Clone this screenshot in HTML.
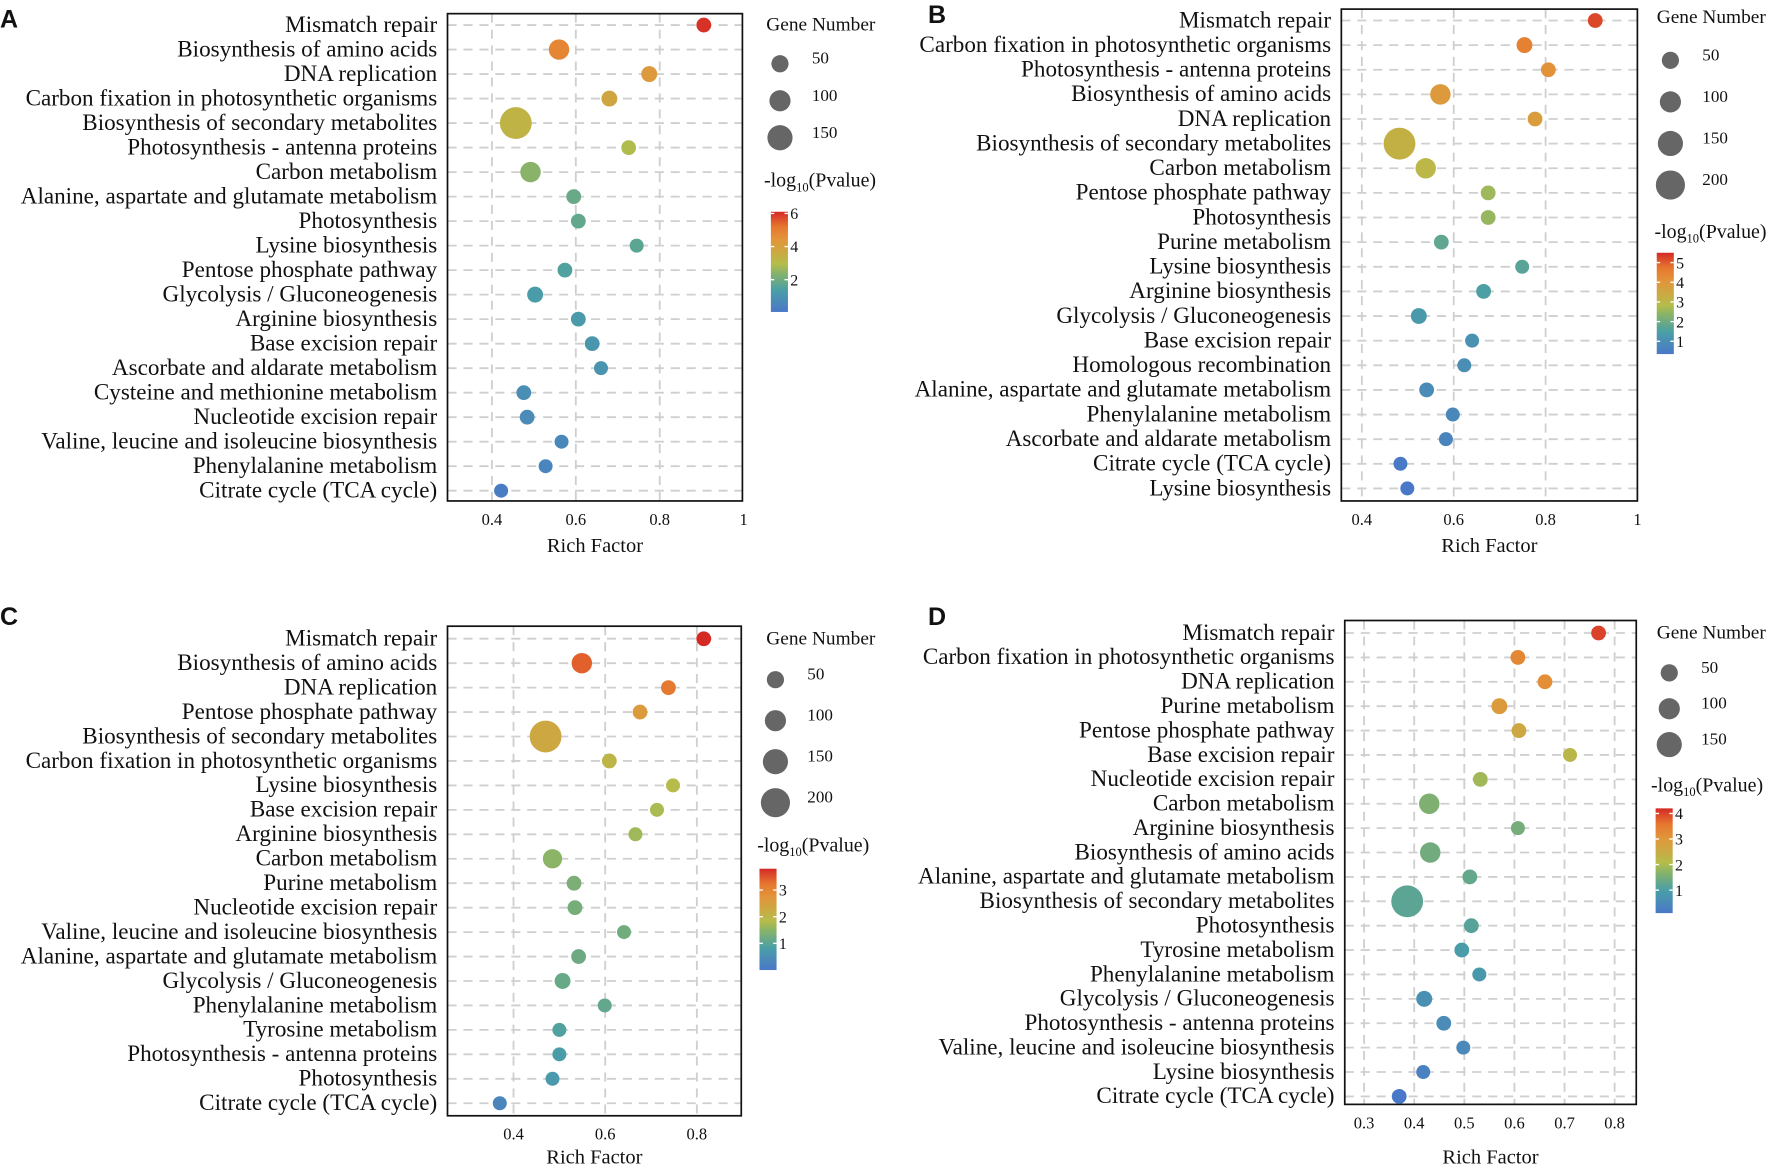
<!DOCTYPE html>
<html><head><meta charset="utf-8"><style>
html,body{margin:0;padding:0;background:#fff;}
svg{display:block;}
text{font-family:"Liberation Serif",serif;fill:#111;}
text.letter{font-family:"Liberation Sans",sans-serif;font-weight:bold;}
</style></head><body>
<svg id="fig" width="1782" height="1167" viewBox="0 0 1565 1025" preserveAspectRatio="none" xmlns="http://www.w3.org/2000/svg"></svg>
<script>
// ---- Panel A data ----
const catsA = ["Mismatch repair","Biosynthesis of amino acids","DNA replication","Carbon fixation in photosynthetic organisms","Biosynthesis of secondary metabolites","Photosynthesis - antenna proteins","Carbon metabolism","Alanine, aspartate and glutamate metabolism","Photosynthesis","Lysine biosynthesis","Pentose phosphate pathway","Glycolysis / Gluconeogenesis","Arginine biosynthesis","Base excision repair","Ascorbate and aldarate metabolism","Cysteine and methionine metabolism","Nucleotide excision repair","Valine, leucine and isoleucine biosynthesis","Phenylalanine metabolism","Citrate cycle (TCA cycle)"];
const richA = [0.905,0.56,0.775,0.68,0.457,0.726,0.492,0.595,0.606,0.745,0.574,0.503,0.606,0.639,0.66,0.476,0.484,0.566,0.528,0.422];
const genesA = [20,91,34,34,234,20,91,20,20,10,20,34,20,20,10,20,20,10,10,10];
const pvalA = [6,4.8,4.2,3.8,3.3,2.9,2.4,1.9,1.8,1.7,1.5,1.3,1.2,1.1,1.0,0.8,0.7,0.6,0.5,0.2];
const ticksA = ["0.4","0.6","0.8","1"];
const sizeLegA = [50,100,150];
const cbTicksA = ["2","4","6"];
// ---- Panel B data ----
const catsB = ["Mismatch repair","Carbon fixation in photosynthetic organisms","Photosynthesis - antenna proteins","Biosynthesis of amino acids","DNA replication","Biosynthesis of secondary metabolites","Carbon metabolism","Pentose phosphate pathway","Photosynthesis","Purine metabolism","Lysine biosynthesis","Arginine biosynthesis","Glycolysis / Gluconeogenesis","Base excision repair","Homologous recombination","Alanine, aspartate and glutamate metabolism","Phenylalanine metabolism","Ascorbate and aldarate metabolism","Citrate cycle (TCA cycle)","Lysine biosynthesis"];
const richB = [0.908,0.754,0.806,0.571,0.777,0.482,0.539,0.675,0.675,0.573,0.749,0.665,0.524,0.64,0.623,0.541,0.598,0.583,0.484,0.499];
const genesB = [20,34,20,91,20,234,91,20,20,20,10,20,34,10,10,20,10,10,10,10];
const pvalB = [5.2,4.5,4.1,3.9,3.8,3.2,3.0,2.6,2.5,1.8,1.7,1.5,1.3,1.1,1.0,0.9,0.8,0.7,0.4,0.3];
const ticksB = ["0.4","0.6","0.8","1"];
const sizeLegB = [50,100,150,200];
const cbTicksB = ["1","2","3","4","5"];
// ---- Panel C data ----
const catsC = ["Mismatch repair","Biosynthesis of amino acids","DNA replication","Pentose phosphate pathway","Biosynthesis of secondary metabolites","Carbon fixation in photosynthetic organisms","Lysine biosynthesis","Base excision repair","Arginine biosynthesis","Carbon metabolism","Purine metabolism","Nucleotide excision repair","Valine, leucine and isoleucine biosynthesis","Alanine, aspartate and glutamate metabolism","Glycolysis / Gluconeogenesis","Phenylalanine metabolism","Tyrosine metabolism","Photosynthesis - antenna proteins","Photosynthesis","Citrate cycle (TCA cycle)"];
const richC = [0.815,0.549,0.738,0.676,0.47,0.609,0.748,0.713,0.666,0.485,0.532,0.534,0.641,0.542,0.507,0.599,0.5,0.5,0.485,0.37];
const genesC = [20,91,20,20,234,20,10,10,10,77,20,20,10,20,34,10,10,10,10,10];
const pvalC = [3.8,3.4,3.2,2.6,2.3,2.0,1.85,1.75,1.65,1.5,1.35,1.3,1.25,1.2,1.15,1.1,0.9,0.8,0.7,0.3];
const ticksC = ["0.4","0.6","0.8"];
const sizeLegC = [50,100,150,200];
const cbTicksC = ["1","2","3"];
// ---- Panel D data ----
const catsD = ["Mismatch repair","Carbon fixation in photosynthetic organisms","DNA replication","Purine metabolism","Pentose phosphate pathway","Base excision repair","Nucleotide excision repair","Carbon metabolism","Arginine biosynthesis","Biosynthesis of amino acids","Alanine, aspartate and glutamate metabolism","Biosynthesis of secondary metabolites","Photosynthesis","Tyrosine metabolism","Phenylalanine metabolism","Glycolysis / Gluconeogenesis","Photosynthesis - antenna proteins","Valine, leucine and isoleucine biosynthesis","Lysine biosynthesis","Citrate cycle (TCA cycle)"];
const richD = [0.768,0.607,0.661,0.57,0.609,0.711,0.532,0.43,0.607,0.432,0.511,0.386,0.514,0.495,0.53,0.42,0.459,0.498,0.418,0.37];
const genesD = [20,20,20,34,20,10,20,91,10,91,20,234,20,20,10,34,20,10,10,20];
const pvalD = [4,3.3,3.15,2.9,2.6,2.2,1.9,1.6,1.5,1.45,1.3,1.2,1.15,0.95,0.85,0.65,0.55,0.5,0.3,0.1];
const ticksD = ["0.3","0.4","0.5","0.6","0.7","0.8"];
const sizeLegD = [50,100,150];
const cbTicksD = ["1","2","3","4"];

const NS="http://www.w3.org/2000/svg";
const svg=document.getElementById('fig');
function mk(tag,attrs,parent,txt){const e=document.createElementNS(NS,tag);for(const k in attrs)e.setAttribute(k,attrs[k]);if(txt!==undefined)e.textContent=txt;(parent||svg).appendChild(e);return e;}
const stops=[[0,'#4a78c8'],[0.22,'#4a9fa6'],[0.38,'#84b26c'],[0.48,'#b4bd4a'],[0.57,'#c6ad44'],[0.72,'#e2953a'],[0.85,'#e6772f'],[1,'#d42a26']];
function hex(c){return [1,3,5].map(i=>parseInt(c.substr(i,2),16));}
function col(t){t=Math.max(0,Math.min(1,t));for(let i=1;i<stops.length;i++){if(t<=stops[i][0]){const a=stops[i-1],b=stops[i];const f=(t-a[0])/(b[0]-a[0]);const A=hex(a[1]),B=hex(b[1]);return 'rgb('+A.map((v,j)=>Math.round(v+(B[j]-v)*f)).join(',')+')';}}return stops[stops.length-1][1];}
function rad(n){return 5.8+0.035*n;}

function panel(o){
  const g=mk('g',{},svg);
  
  
  const L=mk('text',{x:o.lx,y:o.ly,'font-size':22,class:'letter'},g,o.letter);
  
  const xs=v=>o.x0+(v-o.v0)*o.ppu;
  const n=o.cats.length;
  const ys=i=>o.yFirst+i*(o.yLast-o.yFirst)/(n-1);
  const grid=mk('g',{stroke:'#cfcfcf','stroke-width':1.6,'stroke-dasharray':'8 6'},g);
  
  o.ticks.forEach(t=>{const x=xs(parseFloat(t));if(x<o.bx1-1)mk('line',{x1:x,x2:x,y1:o.by0,y2:o.by1},grid);});
  o.cats.forEach((c,i)=>mk('line',{x1:o.bx0,x2:o.bx1,y1:ys(i),y2:ys(i)},grid));
  const fr=mk('rect',{x:o.bx0,y:o.by0,width:o.bx1-o.bx0,height:o.by1-o.by0,fill:'none',stroke:'#111','stroke-width':1.5},g);
  
  o.cats.forEach((c,i)=>{
    const t=mk('text',{x:o.bx0-9,y:ys(i)+6,'text-anchor':'end','font-size':20.3},g,c);
    
    const d=mk('circle',{cx:xs(o.rich[i]),cy:ys(i),r:rad(o.genes[i]),fill:col((o.pval[i]-o.cLo)/(o.cHi-o.cLo))},g);
    
  });
  o.ticks.forEach(t=>{const e=mk('text',{x:xs(parseFloat(t)),y:o.by1+21,'text-anchor':'middle','font-size':14.5},g,t);
    });
  const xt=mk('text',{x:(o.bx0+o.bx1)/2,y:o.xty,'text-anchor':'middle','font-size':18},g,'Rich Factor');
  
  const gt=mk('text',{x:o.gx,y:o.gy,'font-size':17},g,'Gene Number');
  
  o.sizeLeg.forEach((s,i)=>{
    const cy=o.sy0+i*o.sdy;
    const c=mk('circle',{cx:o.scx,cy:cy,r:rad(s),fill:'#666'},g);
    
    const t=mk('text',{x:o.scx+28,y:cy,'font-size':15},g,String(s));
    
  });
  const ct=mk('text',{x:o.ctx,y:o.cty,'font-size':17.5},g);
  
  mk('tspan',{},ct,'-log');mk('tspan',{'font-size':11,dy:4},ct,'10');mk('tspan',{dy:-4},ct,'(Pvalue)');
  const gid='grad'+o.letter;
  const defs=mk('defs',{},g);const lg=mk('linearGradient',{id:gid,x1:0,y1:1,x2:0,y2:0},defs);
  stops.forEach(s=>mk('stop',{offset:s[0],'stop-color':s[1]},lg));
  const cb=mk('rect',{x:o.cbx,y:o.cby0,width:15,height:o.cby1-o.cby0,fill:'url(#'+gid+')'},g);
  
  o.cbTicks.forEach(t=>{
    const v=parseFloat(t);const y=o.cby1-(v-o.cLo)/(o.cHi-o.cLo)*(o.cby1-o.cby0);
    mk('line',{x1:o.cbx,x2:o.cbx+3,y1:y,y2:y,stroke:'#fff','stroke-width':1.2},g);
    mk('line',{x1:o.cbx+12,x2:o.cbx+15,y1:y,y2:y,stroke:'#fff','stroke-width':1.2},g);
    const e=mk('text',{x:o.cbx+17,y:y+5,'font-size':14},g,t);
    
  });
}
panel({letter:'A',lx:0,ly:24,cats:catsA,rich:richA,genes:genesA,pval:pvalA,ticks:ticksA,sizeLeg:sizeLegA,cbTicks:cbTicksA,
  bx0:393,bx1:652,by0:12,by1:440,x0:432,v0:0.4,ppu:368.5,yFirst:22,yLast:431,xty:485,
  gx:673,gy:27,scx:685,sy0:56,sdy:32.5,ctx:671,cty:164,cbx:677,cby0:186,cby1:274,cLo:0.05,cHi:6.1});
panel({letter:'B',lx:815,ly:20,cats:catsB,rich:richB,genes:genesB,pval:pvalB,ticks:ticksB,sizeLeg:sizeLegB,cbTicks:cbTicksB,
  bx0:1178,bx1:1438,by0:8,by1:440,x0:1196,v0:0.4,ppu:403.5,yFirst:18,yLast:429,xty:485,
  gx:1455,gy:20,scx:1467,sy0:53,sdy:36.5,ctx:1453,cty:209,cbx:1455,cby0:222,cby1:311,cLo:0.35,cHi:5.5});
panel({letter:'C',lx:0,ly:549,cats:catsC,rich:richC,genes:genesC,pval:pvalC,ticks:ticksC,sizeLeg:sizeLegC,cbTicks:cbTicksC,
  bx0:393,bx1:651,by0:550,by1:980,x0:451,v0:0.4,ppu:402.5,yFirst:561,yLast:969,xty:1022,
  gx:673,gy:566,scx:681,sy0:597,sdy:36,ctx:665,cty:748,cbx:667,cby0:763,cby1:852,cLo:0.0,cHi:3.8});
panel({letter:'D',lx:815,ly:549,cats:catsD,rich:richD,genes:genesD,pval:pvalD,ticks:ticksD,sizeLeg:sizeLegD,cbTicks:cbTicksD,
  bx0:1181,bx1:1437,by0:545,by1:970,x0:1198,v0:0.3,ppu:440,yFirst:556,yLast:963,xty:1022,
  gx:1455,gy:561,scx:1466,sy0:591,sdy:31.5,ctx:1450,cty:695,cbx:1454,cby0:710,cby1:802,cLo:0.1,cHi:4.2});
</script>
</body></html>
